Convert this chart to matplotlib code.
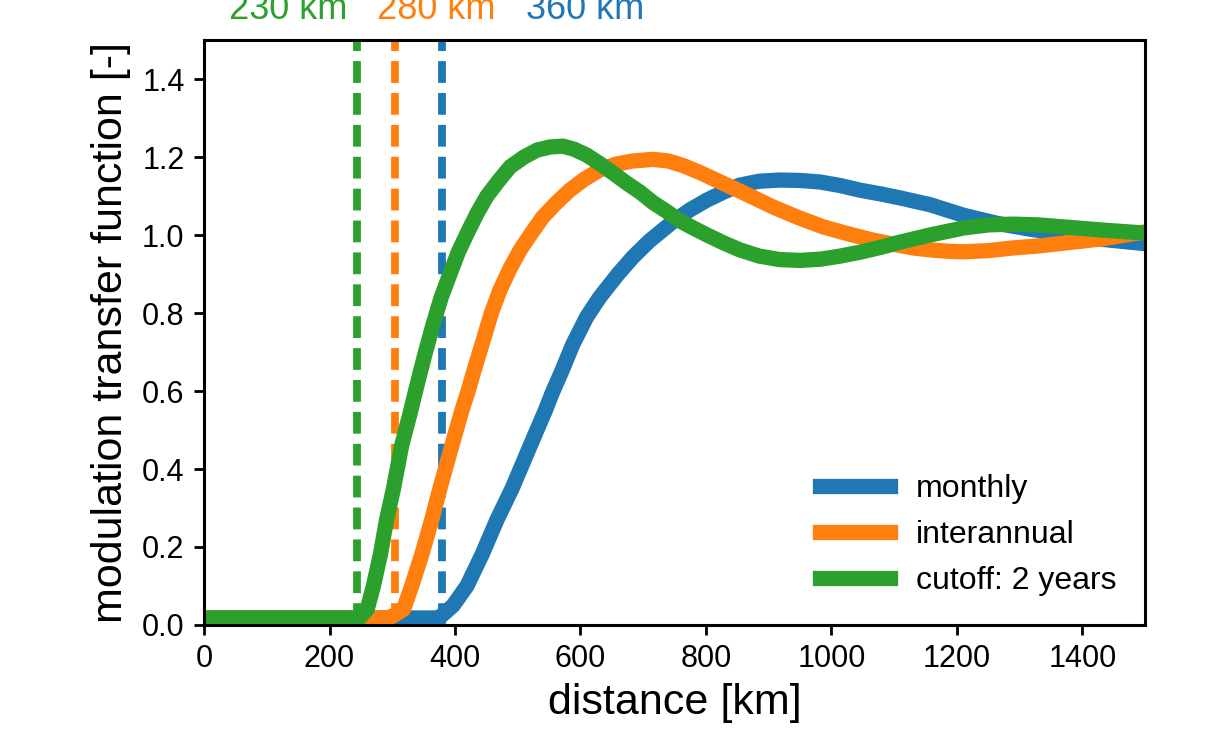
import matplotlib
matplotlib.use("Agg")
import matplotlib.pyplot as plt

plt.rcParams['font.family'] = ['Liberation Sans', 'DejaVu Sans']

# values
monthly_x = [0, 370, 376, 397, 419, 443, 467, 491, 520, 544, 555, 570, 588, 610, 631, 660, 684, 710,
             748, 775, 802, 828, 854, 885, 918, 950, 982, 1014, 1046, 1080, 1110, 1157, 1210,
             1264, 1317, 1360, 1396, 1450, 1500]
monthly_y = [0.018, 0.018, 0.02, 0.05, 0.10, 0.18, 0.27, 0.35, 0.46, 0.55, 0.595, 0.65, 0.72, 0.79, 0.841,
             0.90, 0.944, 0.985, 1.035, 1.065, 1.09, 1.11, 1.128, 1.138, 1.141, 1.14, 1.136, 1.127,
             1.115, 1.105, 1.095, 1.078, 1.051, 1.03, 1.015, 1.005, 0.995, 0.986, 0.978]

inter_x = [0, 290, 300, 318, 331, 347, 363, 376, 395, 411, 421, 429, 445, 458, 472, 488, 504, 522,
           540, 560, 583, 606, 631, 657, 684, 716, 740, 764, 791, 827, 867, 907, 947, 987, 1027,
           1066, 1100, 1130, 1157, 1190, 1210, 1250, 1290, 1330, 1369, 1430, 1500]
inter_y = [0.018, 0.018, 0.022, 0.04, 0.10, 0.18, 0.27, 0.35, 0.46, 0.55, 0.60, 0.645, 0.73, 0.80, 0.86,
           0.915, 0.962, 1.005, 1.046, 1.08, 1.115, 1.143, 1.167, 1.182, 1.19, 1.194, 1.19, 1.178,
           1.16, 1.133, 1.103, 1.072, 1.045, 1.021, 1.003, 0.987, 0.976, 0.967, 0.962, 0.958,
           0.957, 0.96, 0.967, 0.972, 0.979, 0.99, 1.008]

cut_x = [0, 238, 249, 260, 270, 281, 291, 302, 315, 328, 341, 353, 365, 378, 392, 405, 419, 435,
         451, 470, 488, 510, 531, 552, 572, 590, 610, 631, 652, 673, 695, 716, 738, 760, 780, 802,
         828, 854, 885, 918, 950, 982, 1014, 1046, 1080, 1110, 1157, 1210, 1250, 1290, 1330,
         1369, 1430, 1500]
cut_y = [0.018, 0.018, 0.02, 0.04, 0.10, 0.18, 0.27, 0.35, 0.46, 0.54, 0.625, 0.70, 0.77, 0.84, 0.9,
         0.955, 1.003, 1.055, 1.10, 1.14, 1.175, 1.20, 1.218, 1.226, 1.228, 1.22, 1.205, 1.183,
         1.159, 1.134, 1.11, 1.083, 1.06, 1.035, 1.018, 1.0, 0.98, 0.962, 0.946, 0.937, 0.935,
         0.938, 0.946, 0.956, 0.969, 0.982, 1.0, 1.018, 1.026, 1.028, 1.026, 1.021, 1.013, 1.005]

cutoffs = [380, 304, 244]
cutoff_labels = ['360 km', '280 km', '230 km']
label_x = [607, 370, 134]

colors = ['#1f77b4', '#ff7f0e', '#2ca02c']
names = ['monthly', 'interannual', 'cutoff: 2 years']

fig = plt.figure(figsize=(6.055, 3.78), dpi=200)
ax = fig.add_axes([0.1685, 0.1733, 0.777, 0.7737])

# dashed cutoff lines sit under the curves
for xc, lab, lx, c in zip(cutoffs, cutoff_labels, label_x, colors):
    ax.axvline(xc, color=c, lw=2.8, ls='--', dashes=(2.8, 1.3), zorder=1)
    ax.text(lx, 1.578, lab, color=c, fontsize=13, ha='center', va='center', clip_on=False)

for xs, ys, c, n in zip([monthly_x, inter_x, cut_x], [monthly_y, inter_y, cut_y], colors, names):
    ax.plot(xs, ys, color=c, lw=5.5, label=n, solid_joinstyle='round', zorder=2)

ax.set_xlim(0, 1500)
ax.set_ylim(0, 1.5)
ax.set_xticks([0, 200, 400, 600, 800, 1000, 1200, 1400])
ax.set_yticks([0.0, 0.2, 0.4, 0.6, 0.8, 1.0, 1.2, 1.4])
ax.tick_params(labelsize=11, width=1.0, length=3.5)
for s in ax.spines.values():
    s.set_linewidth(1.1)
ax.set_xlabel('distance [km]', fontsize=15.5, labelpad=3)
ax.set_ylabel('modulation transfer function [-]', fontsize=15.5, labelpad=4)
ax.legend(loc='lower right', frameon=False, fontsize=11.5, handlelength=2.2,
          borderaxespad=0.5, labelspacing=0.5)

fig.savefig('out.png', dpi=200)
